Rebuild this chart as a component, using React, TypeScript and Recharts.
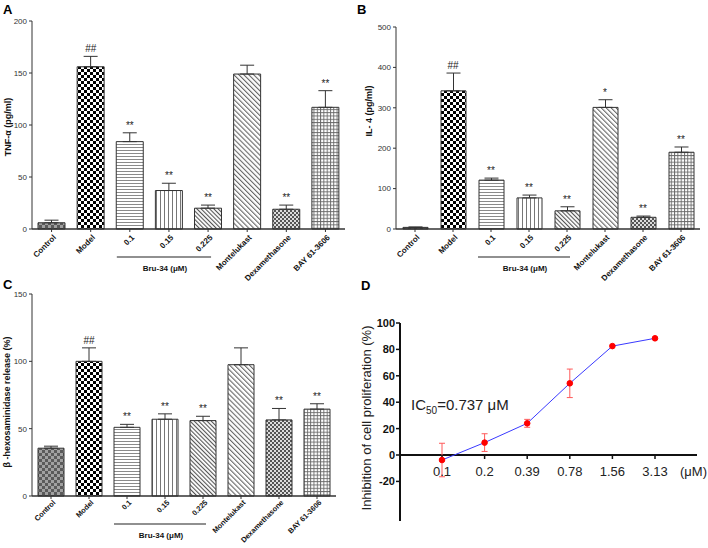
import React from "react";
import {
  ComposedChart,
  LineChart,
  Bar,
  Cell,
  Line,
  ErrorBar,
  LabelList,
  XAxis,
  YAxis,
  ReferenceLine,
} from "recharts";

const FONT = "Arial, 'Liberation Sans', sans-serif";

// groups shared by panels A-C
const groups = ["Control", "Model", "0.1", "0.15", "0.225", "Montelukast", "Dexamethasone", "BAY 61-3606"];

// A: TNF-alpha
const tnfMean = [6, 156, 84, 37, 20, 149, 19, 117];
const tnfSd = [2.5, 10, 8.5, 7, 3, 8.5, 4, 16];
const tnfMarks = ["", "##", "**", "**", "**", "", "**", "**"];
const tnfTicks = [0, 50, 100, 150, 200];

// B: IL-4
const il4Mean = [4, 342, 121, 77, 45, 301, 29, 190];
const il4Sd = [1, 44, 5, 7, 10, 19, 3, 13];
const il4Marks = ["", "##", "**", "**", "**", "*", "**", "**"];
const il4Ticks = [0, 100, 200, 300, 400, 500];

// C: beta-hexosaminidase
const hexMean = [35.5, 100, 51, 57, 56, 97.5, 56.5, 64.5];
const hexSd = [1.5, 10, 2.2, 4, 3.2, 12.5, 8.5, 4];
const hexMarks = ["", "##", "**", "**", "**", "", "**", "**"];
const hexTicks = [0, 50, 100, 150];

// D: inhibition of cell proliferation
const doses = ["0.1", "0.2", "0.39", "0.78", "1.56", "3.13"];
const inhib = [-3.8, 9.4, 24, 54.3, 82.5, 88.4];
const inhibSd = [12.7, 6.7, 3, 10.8, 0, 0];
const inhibTicks = [-20, 0, 20, 40, 60, 80, 100];

const fills = ["url(#pCtrl)", "url(#pModel)", "url(#pH)", "url(#pV)", "url(#pD1)", "url(#pD2)", "url(#pDex)", "url(#pGrid)"];

const rows = (mean: number[], sd: number[], marks: string[]) =>
  groups.map((g, i) => ({ name: g, mean: mean[i], err: [0, sd[i]], top: mean[i] + sd[i], mark: marks[i] }));

const doseRows = doses.map((d, i) => ({ dose: d, v: inhib[i], sd: inhibSd[i], zero: 0 }));

const sideLabel = (text: string, x: number, dy: number, size: number, weight: string, color: string) =>
  (props: any) => {
    const vb = props.viewBox;
    const cx = vb.x + x;
    const cy = vb.y + vb.height / 2 + dy;
    return (
      <text x={cx} y={cy} transform={`rotate(-90 ${cx} ${cy})`} textAnchor="middle" dominantBaseline="central"
        fontSize={size} fontWeight={weight} fill={color} fontFamily={FONT}>
        {text}
      </text>
    );
  };

function BarTick(props: any) {
  const { x, y, payload, index, size = 8, lift = 0 } = props;
  const step = payload && payload.offset ? payload.offset * 2 : 38;
  return (
    <g>
      <text transform={`translate(${x + 5},${y + 5 - lift}) rotate(-45)`} textAnchor="end" fontSize={size}
        fontWeight="bold" fill="#111" fontFamily={FONT}>
        {payload.value}
      </text>
      {index === 2 && (
        <g>
          <line x1={x - 13} x2={x + 2 * step + 3} y1={y + 24} y2={y + 24} stroke="#222" strokeWidth={1.2} />
          <text x={x + step - 4} y={y + 38} textAnchor="middle" fontSize={8} fontWeight="bold" fill="#111" fontFamily={FONT}>
            Bru-34 (μM)
          </text>
        </g>
      )}
    </g>
  );
}

// small downward tick on the zero line of panel D
const ZeroTick = (p: any) => (
  <line key={p.index} x1={p.cx} x2={p.cx} y1={p.cy} y2={p.cy + 4} stroke="#111" strokeWidth={1.5} />
);

interface PanelProps {
  data: any[];
  ticks: number[];
  yWidth: number;
  height: number;
  margin: { top: number; right: number; bottom: number; left: number };
  barSize: number;
  label: string;
  labelX: number;
  labelDy: number;
  tickFont?: number;
  lift?: number;
}

function BarPanel({ data, ticks, yWidth, height, margin, barSize, label, labelX, labelDy, tickFont = 8, lift = 0 }: PanelProps) {
  return (
    <ComposedChart width={354} height={height} data={data} margin={margin}>
      <XAxis dataKey="name" interval={0} height={40} tickSize={3} tickMargin={1}
        axisLine={{ stroke: "#333", strokeWidth: 1.5 }} tickLine={{ stroke: "#333" }}
        tick={<BarTick size={tickFont} lift={lift} />} />
      <YAxis width={yWidth} domain={[ticks[0], ticks[ticks.length - 1]]} ticks={ticks} tickSize={3} tickMargin={2}
        axisLine={{ stroke: "#333" }} tickLine={{ stroke: "#333" }}
        tick={{ fontSize: 8, fill: "#333", fontFamily: FONT }}
        label={sideLabel(label, labelX, labelDy, 9, "bold", "#111")} />
      <Bar dataKey="mean" barSize={barSize} stroke="#333" strokeWidth={1} isAnimationActive={false}>
        {data.map((_, i) => (
          <Cell key={i} fill={fills[i]} />
        ))}
        <ErrorBar dataKey="err" width={7} stroke="#333" strokeWidth={1} />
      </Bar>
      <Line dataKey="top" stroke="none" dot={false} activeDot={false} isAnimationActive={false}>
        <LabelList dataKey="mark" position="top" offset={4} fontSize={10} fill="#222" stroke="none" fontFamily={FONT} />
      </Line>
    </ComposedChart>
  );
}

const letter = (t: string, left: number, top: number) => (
  <div style={{ position: "absolute", left, top, fontFamily: FONT, fontWeight: "bold", fontSize: 13, lineHeight: 1 }}>{t}</div>
);

export default function App() {
  return (
    <div style={{ position: "absolute", left: 0, top: 0, width: 708, height: 548, background: "#fff", fontFamily: FONT, overflow: "hidden" }}>
      <svg width={0} height={0} style={{ position: "absolute" }}>
        <defs>
          <pattern id="pCtrl" width="6" height="6" patternUnits="userSpaceOnUse">
            <rect width="6" height="6" fill="#a0a0a0" />
            <rect width="3" height="3" fill="#5a5a5a" />
            <rect x="3" y="3" width="3" height="3" fill="#5a5a5a" />
          </pattern>
          <pattern id="pModel" width="6" height="6" patternUnits="userSpaceOnUse">
            <rect width="6" height="6" fill="#fff" />
            <rect width="3" height="3" fill="#000" />
            <rect x="3" y="3" width="3" height="3" fill="#000" />
          </pattern>
          <pattern id="pH" width="4" height="3" patternUnits="userSpaceOnUse">
            <rect width="4" height="3" fill="#fff" />
            <line x1="0" y1="0.5" x2="4" y2="0.5" stroke="#8a8a8a" strokeWidth="1" />
          </pattern>
          <pattern id="pV" width="4" height="4" patternUnits="userSpaceOnUse">
            <rect width="4" height="4" fill="#fff" />
            <line x1="0.5" y1="0" x2="0.5" y2="4" stroke="#777" strokeWidth="1" />
          </pattern>
          <pattern id="pD1" width="3" height="3" patternUnits="userSpaceOnUse" patternTransform="rotate(-45)">
            <rect width="3" height="3" fill="#fff" />
            <line x1="0.5" y1="0" x2="0.5" y2="3" stroke="#555" strokeWidth="1.2" />
          </pattern>
          <pattern id="pD2" width="3.5" height="3.5" patternUnits="userSpaceOnUse" patternTransform="rotate(-45)">
            <rect width="3.5" height="3.5" fill="#fff" />
            <line x1="0.5" y1="0" x2="0.5" y2="3.5" stroke="#666" strokeWidth="1.2" />
          </pattern>
          <pattern id="pDex" width="4" height="4" patternUnits="userSpaceOnUse">
            <rect width="4" height="4" fill="#ddd" />
            <rect width="2" height="2" fill="#555" />
            <rect x="2" y="2" width="2" height="2" fill="#555" />
          </pattern>
          <pattern id="pGrid" width="3.3" height="3.3" patternUnits="userSpaceOnUse">
            <rect width="3.3" height="3.3" fill="#fff" />
            <line x1="0" y1="0.5" x2="3.3" y2="0.5" stroke="#666" strokeWidth="0.9" />
            <line x1="0.5" y1="0" x2="0.5" y2="3.3" stroke="#666" strokeWidth="0.9" />
          </pattern>
        </defs>
      </svg>

      <div style={{ position: "absolute", left: 0, top: 0 }}>
        <BarPanel data={rows(tnfMean, tnfSd, tnfMarks)} ticks={tnfTicks} yWidth={32} height={290}
          margin={{ top: 21, right: 9, bottom: 21, left: 0 }} barSize={27}
          label="TNF-α (pg/ml)" labelX={8} labelDy={2} />
      </div>
      <div style={{ position: "absolute", left: 354, top: 0 }}>
        <BarPanel data={rows(il4Mean, il4Sd, il4Marks)} ticks={il4Ticks} yWidth={42} height={290}
          margin={{ top: 27, right: 8, bottom: 21, left: 0 }} barSize={25}
          label="IL- 4 (pg/ml)" labelX={15} labelDy={-17} />
      </div>
      <div style={{ position: "absolute", left: 0, top: 270 }}>
        <BarPanel data={rows(hexMean, hexSd, hexMarks)} ticks={hexTicks} yWidth={32} height={278}
          margin={{ top: 24, right: 18, bottom: 12, left: 0 }} barSize={26}
          label="β -hexosaminidase release (%)" labelX={7} labelDy={7} tickFont={7.4} lift={2} />
      </div>
      <div style={{ position: "absolute", left: 354, top: 270 }}>
        <LineChart width={354} height={278} data={doseRows} margin={{ top: 53, right: 11, bottom: 27, left: 0 }}>
          <XAxis dataKey="dose" hide padding={{ left: 42, right: 42 }} />
          <YAxis width={46} domain={[-50, 100]} ticks={inhibTicks} interval={0} tickSize={4} tickMargin={1}
            axisLine={{ stroke: "#111", strokeWidth: 2 }} tickLine={{ stroke: "#111", strokeWidth: 1.5 }}
            tick={{ fontSize: 11, fontWeight: "bold", fill: "#111", fontFamily: FONT }}
            label={sideLabel("Inhibition of cell proliferation (%)", 12, -4, 13, "normal", "#222")} />
          <ReferenceLine y={0} stroke="#111" strokeWidth={2}
            label={(p: any) => (
              <text x={p.viewBox.x + p.viewBox.width + 10} y={p.viewBox.y + 21} textAnchor="end"
                fontSize={13} fill="#222" fontFamily={FONT}>(μM)</text>
            )} />
          <Line dataKey="zero" stroke="none" dot={ZeroTick} activeDot={false} isAnimationActive={false}>
            <LabelList dataKey="dose" position="bottom" offset={12} fontSize={13} fill="#222" stroke="none" fontFamily={FONT} />
          </Line>
          <Line dataKey="v" stroke="#3a3aff" strokeWidth={1} isAnimationActive={false}
            dot={{ r: 2.8, fill: "#ff0000", stroke: "#ff0000", strokeWidth: 1 }} activeDot={false}>
            <ErrorBar dataKey="sd" width={3} stroke="#ff5a5a" strokeWidth={1} />
          </Line>
        </LineChart>
      </div>

      <div style={{ position: "absolute", left: 411, top: 397, fontSize: 15, color: "#222", whiteSpace: "nowrap", lineHeight: 1 }}>
        IC<sub style={{ fontSize: 10 }}>50</sub>=0.737 μM
      </div>

      {letter("A", 3, 3)}
      {letter("B", 357, 3)}
      {letter("C", 3, 278)}
      {letter("D", 361, 279)}
    </div>
  );
}
